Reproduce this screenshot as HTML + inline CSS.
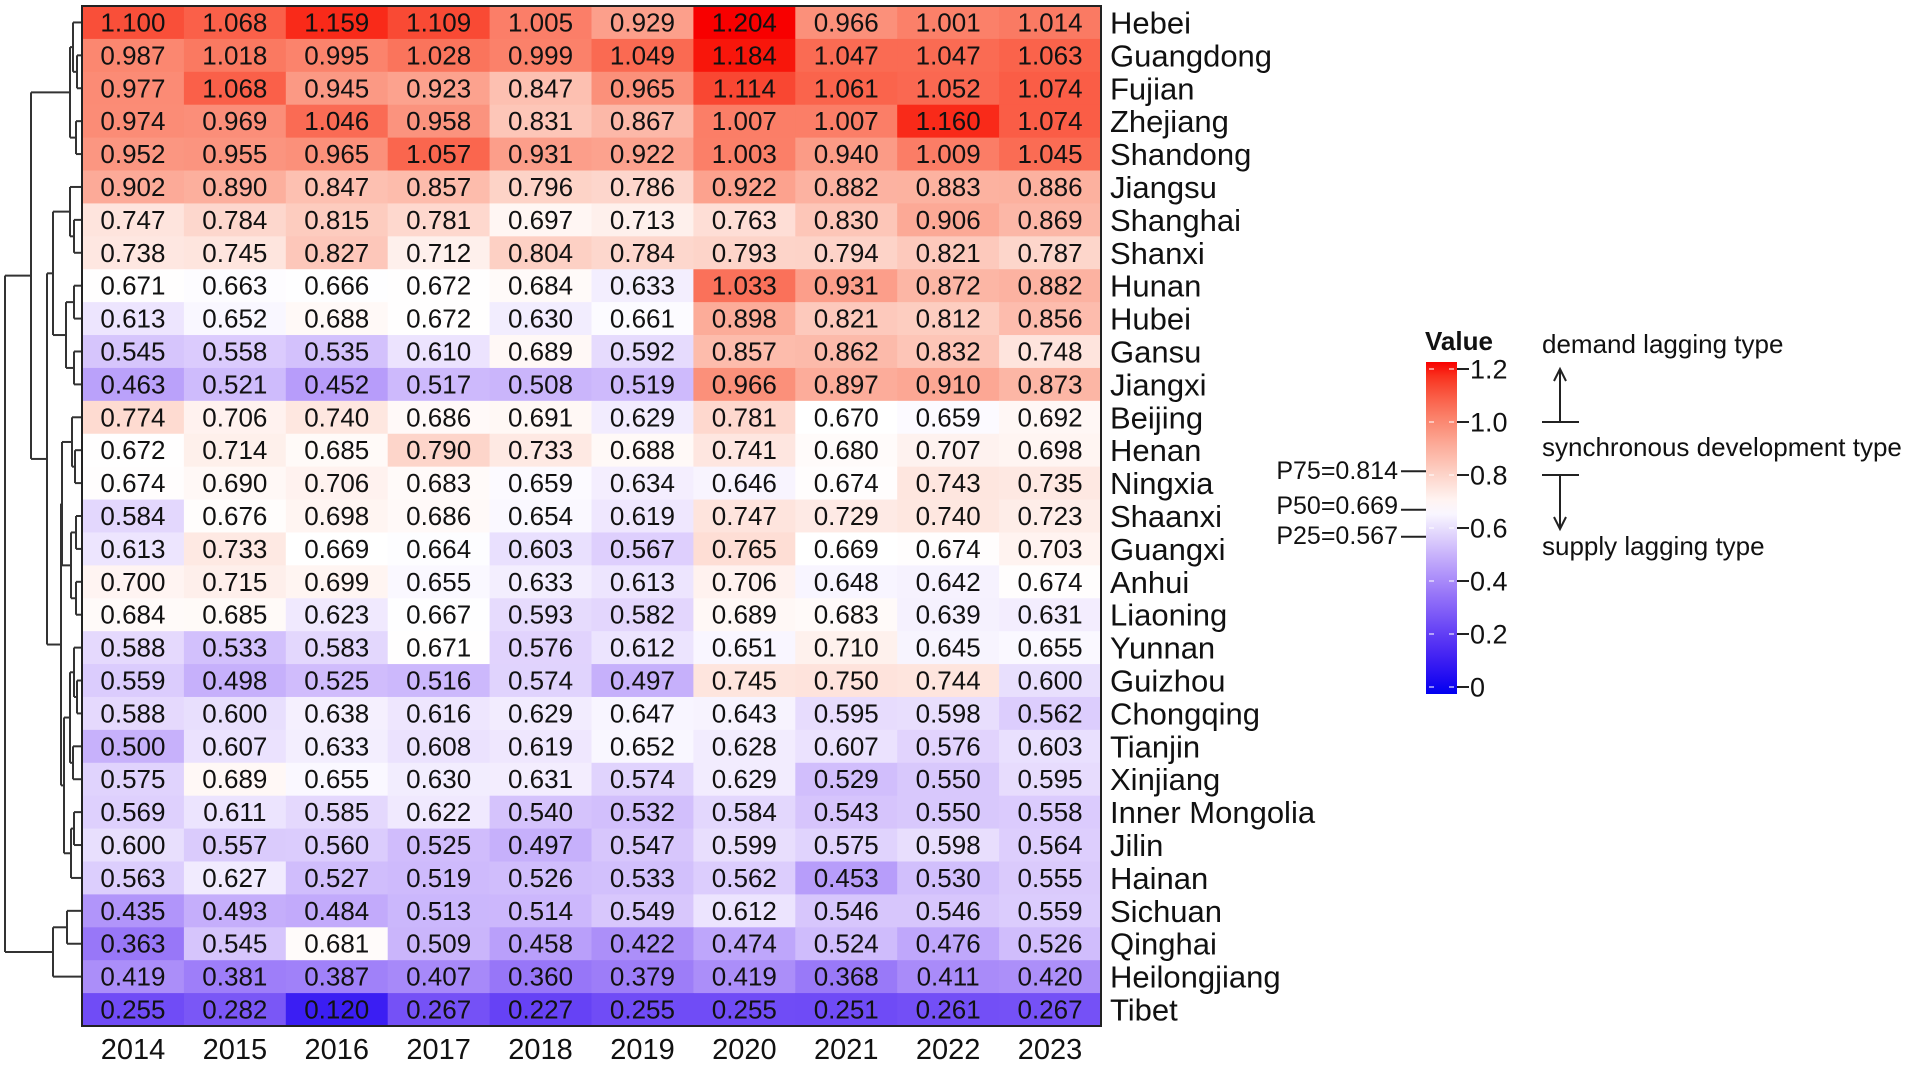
<!DOCTYPE html>
<html><head><meta charset="utf-8"><style>
html,body{margin:0;padding:0;background:#fff;}
svg{display:block;font-family:"Liberation Sans",Arial,sans-serif;}
</style></head><body>
<svg id="chart" width="1908" height="1065" viewBox="0 0 1908 1065" xmlns="http://www.w3.org/2000/svg">
<g id="dendro"></g>
<g id="cells"></g>
<g id="rowlabels"></g>
<g id="collabels"></g>
<g id="legend"></g>
</svg>
<script>
const years = ["2014","2015","2016","2017","2018","2019","2020","2021","2022","2023"];
const provinces = ["Hebei","Guangdong","Fujian","Zhejiang","Shandong","Jiangsu","Shanghai","Shanxi","Hunan","Hubei","Gansu","Jiangxi","Beijing","Henan","Ningxia","Shaanxi","Guangxi","Anhui","Liaoning","Yunnan","Guizhou","Chongqing","Tianjin","Xinjiang","Inner Mongolia","Jilin","Hainan","Sichuan","Qinghai","Heilongjiang","Tibet"];
const values = [
[1.100,1.068,1.159,1.109,1.005,0.929,1.204,0.966,1.001,1.014],
[0.987,1.018,0.995,1.028,0.999,1.049,1.184,1.047,1.047,1.063],
[0.977,1.068,0.945,0.923,0.847,0.965,1.114,1.061,1.052,1.074],
[0.974,0.969,1.046,0.958,0.831,0.867,1.007,1.007,1.160,1.074],
[0.952,0.955,0.965,1.057,0.931,0.922,1.003,0.940,1.009,1.045],
[0.902,0.890,0.847,0.857,0.796,0.786,0.922,0.882,0.883,0.886],
[0.747,0.784,0.815,0.781,0.697,0.713,0.763,0.830,0.906,0.869],
[0.738,0.745,0.827,0.712,0.804,0.784,0.793,0.794,0.821,0.787],
[0.671,0.663,0.666,0.672,0.684,0.633,1.033,0.931,0.872,0.882],
[0.613,0.652,0.688,0.672,0.630,0.661,0.898,0.821,0.812,0.856],
[0.545,0.558,0.535,0.610,0.689,0.592,0.857,0.862,0.832,0.748],
[0.463,0.521,0.452,0.517,0.508,0.519,0.966,0.897,0.910,0.873],
[0.774,0.706,0.740,0.686,0.691,0.629,0.781,0.670,0.659,0.692],
[0.672,0.714,0.685,0.790,0.733,0.688,0.741,0.680,0.707,0.698],
[0.674,0.690,0.706,0.683,0.659,0.634,0.646,0.674,0.743,0.735],
[0.584,0.676,0.698,0.686,0.654,0.619,0.747,0.729,0.740,0.723],
[0.613,0.733,0.669,0.664,0.603,0.567,0.765,0.669,0.674,0.703],
[0.700,0.715,0.699,0.655,0.633,0.613,0.706,0.648,0.642,0.674],
[0.684,0.685,0.623,0.667,0.593,0.582,0.689,0.683,0.639,0.631],
[0.588,0.533,0.583,0.671,0.576,0.612,0.651,0.710,0.645,0.655],
[0.559,0.498,0.525,0.516,0.574,0.497,0.745,0.750,0.744,0.600],
[0.588,0.600,0.638,0.616,0.629,0.647,0.643,0.595,0.598,0.562],
[0.500,0.607,0.633,0.608,0.619,0.652,0.628,0.607,0.576,0.603],
[0.575,0.689,0.655,0.630,0.631,0.574,0.629,0.529,0.550,0.595],
[0.569,0.611,0.585,0.622,0.540,0.532,0.584,0.543,0.550,0.558],
[0.600,0.557,0.560,0.525,0.497,0.547,0.599,0.575,0.598,0.564],
[0.563,0.627,0.527,0.519,0.526,0.533,0.562,0.453,0.530,0.555],
[0.435,0.493,0.484,0.513,0.514,0.549,0.612,0.546,0.546,0.559],
[0.363,0.545,0.681,0.509,0.458,0.422,0.474,0.524,0.476,0.526],
[0.419,0.381,0.387,0.407,0.360,0.379,0.419,0.368,0.411,0.420],
[0.255,0.282,0.120,0.267,0.227,0.255,0.255,0.251,0.261,0.267]
];
const legendTicks = [0,0.2,0.4,0.6,0.8,1.0,1.2];
const legendTickLabels = ["0","0.2","0.4","0.6","0.8","1.0","1.2"];
const percentileValues = [0.814,0.669,0.567];
const percentileLabels = ["P75=0.814","P50=0.669","P25=0.567"];

const NS="http://www.w3.org/2000/svg";
function mk(tag,attrs,parent,text){const e=document.createElementNS(NS,tag);for(const k in attrs)e.setAttribute(k,attrs[k]);if(text!==undefined)e.textContent=text;parent.appendChild(e);return e;}

const X0=82,X1=1101,Y0=6,Y1=1026;
const cw=(X1-X0)/years.length, ch=(Y1-Y0)/provinces.length;
const xCol=i=>X0+i*cw;
const yRow=i=>Y0+i*ch;
const VMIN=0,VMID=0.669,VMAX=1.2;
function color(v){
  if(v<=VMID){const t=Math.max(0,(v-VMIN)/(VMID-VMIN));
    return `rgb(${Math.round(255*Math.pow(t,0.85))},${Math.round(255*Math.pow(t,1.25))},${Math.round(240+15*t)})`;}
  const s=Math.max(0,(VMAX-v)/(VMAX-VMID));
  return `rgb(${Math.round(248+7*s)},${Math.round(255*Math.pow(s,0.7))},${Math.round(255*Math.pow(s,0.9))})`;
}
const cells=document.getElementById('cells');
values.forEach((row,r)=>row.forEach((v,c)=>{
  const rect=mk('rect',{x:xCol(c),y:yRow(r),width:cw+0.5,height:ch+0.5,fill:color(v)},cells);
  
  
  const t=mk('text',{x:xCol(c)+cw/2,y:yRow(r)+ch/2+9,'text-anchor':'middle','font-size':26,fill:'#111'},cells,v.toFixed(3));
  
  
}));
const border=mk('rect',{x:X0,y:Y0,width:X1-X0,height:Y1-Y0,fill:'none',stroke:'#222','stroke-width':2},cells);



const rl=document.getElementById('rowlabels');
provinces.forEach((p,i)=>{
  const t=mk('text',{x:1110,y:yRow(i)+ch/2+11,'font-size':31,fill:'#111'},rl,p);
  
  
});
const cl=document.getElementById('collabels');
years.forEach((y,i)=>{
  const t=mk('text',{x:xCol(i)+cw/2,y:1059,'text-anchor':'middle','font-size':29,fill:'#111'},cl,y);
  
  
});

const tree=[5,
  [31,
    [70,[73,0,[77,1,2]],[76,3,4]],
    [47,
      [53,[70,5,[74,6,7]],[66,[74,8,9],[74,10,11]]],
      [61,[62,[72,12,[75,13,14]],[71,[76,15,16],[76,17,18]]],
          [64,[70,[74,19,[77,20,21]],[73,22,23]],[71,[74,24,25],26]]]]],
  [53,[67,27,28],29]];
const dg=document.getElementById('dendro');
function drawNode(n){
  if(typeof n==='number')return {x:X0,y:yRow(n)+ch/2};
  const h=n[0];const kids=n.slice(1).map(drawNode);
  const ys=kids.map(k=>k.y);const mn=Math.min(...ys),mx=Math.max(...ys);
  mk('line',{x1:h,y1:mn,x2:h,y2:mx,stroke:'#333','stroke-width':2},dg);
  kids.forEach(k=>mk('line',{x1:h,y1:k.y,x2:k.x,y2:k.y,stroke:'#333','stroke-width':2},dg));
  return {x:h,y:(mn+mx)/2};
}
drawNode(tree);

const lg=document.getElementById('legend');
const LX=1426,LW=31;
const ly=v=>687-v*265;
const defs=mk('defs',{},lg);
const grad=mk('linearGradient',{id:'lgrad',x1:0,y1:1,x2:0,y2:0},defs);
for(let i=0;i<=24;i++){const v=VMAX*i/24;mk('stop',{offset:(i/24),'stop-color':color(v)},grad);}
const bar=mk('rect',{x:LX,y:ly(VMAX)-7,width:LW,height:ly(0)-ly(VMAX)+14,fill:'url(#lgrad)'},lg);


mk('text',{x:LX-1,y:350,'font-size':26,'font-weight':'bold',fill:'#111'},lg,'Value');
legendTicks.forEach((v,i)=>{
  mk('line',{x1:LX+LW,y1:ly(v),x2:LX+LW+12,y2:ly(v),stroke:'#222','stroke-width':2},lg);
  mk('line',{x1:LX+3,y1:ly(v),x2:LX+8,y2:ly(v),stroke:'rgba(255,255,255,0.7)','stroke-width':1.5},lg);
  mk('line',{x1:LX+23,y1:ly(v),x2:LX+28,y2:ly(v),stroke:'rgba(255,255,255,0.7)','stroke-width':1.5},lg);
  const t=mk('text',{x:LX+LW+13,y:ly(v)+9.5,'font-size':27,fill:'#111'},lg,legendTickLabels[i]);
  
  
});
const plabY=[479,514,544];
percentileValues.forEach((v,i)=>{
  const y=ly(v);
  mk('line',{x1:1401,y1:y,x2:1426,y2:y,stroke:'#222','stroke-width':2},lg);
  const t=mk('text',{x:1398,y:plabY[i],'text-anchor':'end','font-size':25,fill:'#111'},lg,percentileLabels[i]);
  
  
});
mk('text',{x:1542,y:353,'font-size':26,fill:'#111'},lg,'demand lagging type');
mk('text',{x:1542,y:456,'font-size':26,fill:'#111'},lg,'synchronous development type');
mk('text',{x:1542,y:555,'font-size':26,fill:'#111'},lg,'supply lagging type');
mk('line',{x1:1542,y1:ly(1.0),x2:1579,y2:ly(1.0),stroke:'#222','stroke-width':2},lg);
mk('line',{x1:1542,y1:ly(0.8),x2:1579,y2:ly(0.8),stroke:'#222','stroke-width':2},lg);
mk('line',{x1:1560,y1:ly(1.0),x2:1560,y2:370,stroke:'#222','stroke-width':2},lg);
mk('path',{d:'M1554,381 L1560,369 L1566,381',fill:'none',stroke:'#222','stroke-width':2},lg);
mk('line',{x1:1560,y1:ly(0.8),x2:1560,y2:528,stroke:'#222','stroke-width':2},lg);
mk('path',{d:'M1554,517 L1560,529 L1566,517',fill:'none',stroke:'#222','stroke-width':2},lg);
</script>
</body></html>
